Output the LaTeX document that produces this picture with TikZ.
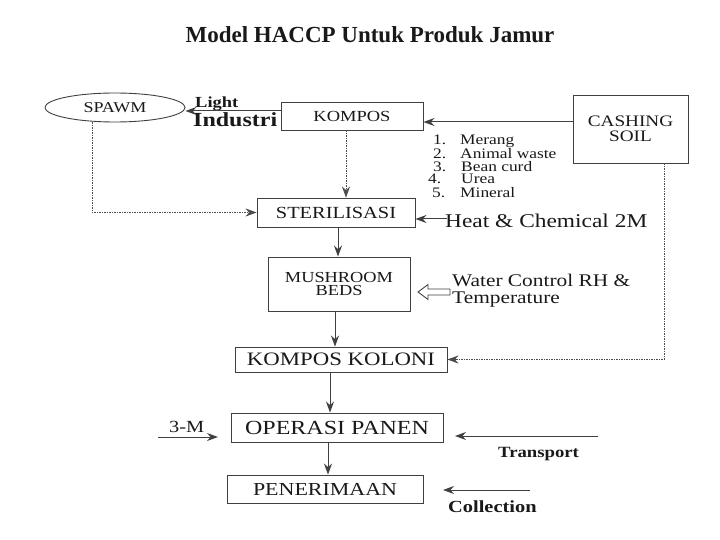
\documentclass[tikz,border=0pt]{standalone}
\usepackage{fontspec}
\setmainfont{Liberation Serif}
\newfontfamily\wf[FakeStretch=1.2]{Liberation Serif}
\usetikzlibrary{arrows.meta,shapes.geometric}
\newcommand{\fz}[1]{\fontsize{#1}{#1}\selectfont}
\begin{document}
\begin{tikzpicture}[x=1pt,y=-1pt,
  box/.style={draw=black!75, line width=0.9pt, inner sep=0pt, text=black!90, align=center},
  arr/.style={draw=black!75, line width=1pt, -{Stealth[length=11pt,width=8pt]}},
  darr/.style={draw=black!70, line width=0.7pt, dash pattern=on 1.5pt off 1pt, -{Stealth[length=11pt,width=8pt]}},
  lbl/.style={anchor=base west, inner sep=0pt, text=black!90},
]
\fill[white] (0,0) rectangle (720,540);
\useasboundingbox (0,0) rectangle (720,540);

% title
\node[anchor=base, inner sep=0pt, text=black!90, font=\bfseries\fz{23}] (title) at (370,43) {Model HACCP Untuk Produk Jamur};

% boxes
\node[box, ellipse, minimum width=140pt, minimum height=29pt, font=\wf\fz{15}] (spawm) at (115,107.5) {SPAWM};
\node[box, minimum width=142pt, minimum height=28pt, font=\wf\fz{15.4}] (kompos) at (352,116) {KOMPOS};
\node[box, minimum width=115pt, minimum height=68pt, font=\wf\fontsize{16}{14.5}\selectfont] (casing) at (630.5,129) {CASHING\\SOIL};
\node[box, minimum width=158pt, minimum height=29pt, font=\wf\fz{17}] (steril) at (336,212.5) {STERILISASI};
\node[box, minimum width=142pt, minimum height=54pt, font=\wf\fontsize{15.3}{13.5}\selectfont] (mush) at (339,284) {MUSHROOM\\BEDS};
\node[box, minimum width=212pt, minimum height=25pt, font=\wf\fz{19}] (kolon) at (341,359.5) {KOMPOS KOLONI};
\node[box, minimum width=212pt, minimum height=29pt, font=\wf\fz{20}] (panen) at (337,427.5) {OPERASI PANEN};
\node[box, minimum width=196pt, minimum height=28pt, font=\wf\fz{18.3}] (terima) at (325,489) {PENERIMAAN};

% labels
\node[lbl, font=\wf\bfseries\fz{15.4}] (light) at (195,108) {Light};
\node[lbl, font=\wf\bfseries\fz{20}] (industri) at (193,127) {Industri};

\node[lbl, font=\wf\fz{14.5}] (n1) at (433,145) {1.};
\node[lbl, font=\wf\fz{14.5}] (t1) at (460,145) {Merang};
\node[lbl, font=\wf\fz{14.5}] (n2) at (433,159) {2.};
\node[lbl, font=\wf\fz{14.5}] (t2) at (460,159) {Animal waste};
\node[lbl, font=\wf\fz{14.5}] (n3) at (433,172) {3.};
\node[lbl, font=\wf\fz{14.5}] (t3) at (461,172) {Bean curd};
\node[lbl, font=\wf\fz{14.5}] (n4) at (428,184) {4.};
\node[lbl, font=\wf\fz{14.5}] (t4) at (461,184) {Urea};
\node[lbl, font=\wf\fz{14.5}] (n5) at (432,197) {5.};
\node[lbl, font=\wf\fz{14.5}] (t5) at (460,197) {Mineral};

\node[lbl, font=\wf\fz{19.5}] (heat) at (445,228) {Heat \& Chemical 2M};
\node[lbl, font=\wf\fz{17.8}] (water) at (452,286) {Water Control RH \&};
\node[lbl, font=\wf\fz{17.8}] (temp) at (452,303) {Temperature};
\node[lbl, font=\wf\fz{17}] (m3) at (169,432) {3-M};
\node[lbl, font=\wf\bfseries\fz{15.6}] (transport) at (498,457) {Transport};
\node[lbl, font=\wf\bfseries\fz{17}] (collect) at (448,512) {Collection};

% free ends
\coordinate (heatS) at (447,219);
\coordinate (mA) at (158,437);
\coordinate (mB) at (218,437);
\coordinate (trA) at (598,436);
\coordinate (trB) at (455,436);
\coordinate (coA) at (530,490);
\coordinate (coB) at (443,490);

% connectors
\draw[arr] (kompos.west |- 0,111) -- (spawm.east |- 0,111);
\draw[arr] (casing.west |- 0,122) -- (kompos.east |- 0,122);
\draw[darr] (kompos.south -| 346,0) -- (steril.north -| 346,0);
\draw[darr] (spawm.south -| 92,0) |- (steril.west);
\draw[arr] (heatS) -- (heatS -| steril.east);
\draw[arr] (steril.south -| 338,0) -- (mush.north -| 338,0);
\draw[arr] (mush.south -| 335,0) -- (kolon.north -| 335,0);
\draw[darr] (casing.south -| 664,0) |- (kolon.east);
\draw[arr] (kolon.south -| 330,0) -- (panen.north -| 330,0);
\draw[arr] (panen.south -| 328,0) -- (terima.north -| 328,0);
\draw[arr] (mA) -- (mB);
\draw[arr] (trA) -- (trB);
\draw[arr] (coA) -- (coB);

% hollow arrow (water control)
\draw[draw=black!75, line width=0.9pt, fill=white] (418,292) -- (428,284.5) -- (428,289) -- (450,289) -- (450,295) -- (428,295) -- (428,299.5) -- cycle;
\end{tikzpicture}
\end{document}
